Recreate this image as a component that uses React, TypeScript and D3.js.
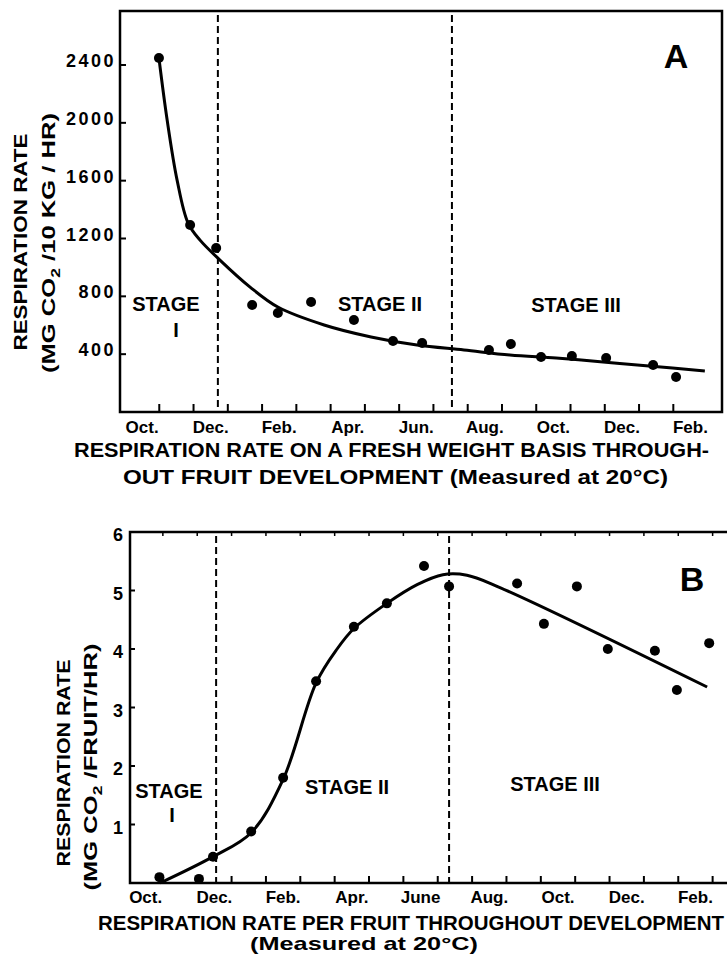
import * as d3 from 'd3';

// month index counted from the start of the first October
const monthLabelsA = ['Oct.', 'Dec.', 'Feb.', 'Apr.', 'Jun.', 'Aug.', 'Oct.', 'Dec.', 'Feb.'];
const monthLabelsB = ['Oct.', 'Dec.', 'Feb.', 'Apr.', 'June', 'Aug.', 'Oct.', 'Dec.', 'Feb.'];
const labelMonths = [0.5, 2.5, 4.5, 6.5, 8.5, 10.5, 12.5, 14.5, 16.5];

// panel A: mg CO2 / 10 kg / hr
const pointMonthsA = [0.99, 1.9, 2.66, 3.71, 4.46, 5.43, 6.68, 7.82, 8.67, 10.62, 11.26, 12.14, 13.04, 14.04, 15.41, 16.08];
const pointValuesA = [2448, 1293, 1134, 740, 685, 761, 636, 491, 477, 429, 470, 380, 387, 373, 325, 242];
const curveMonthsA = [0.99, 1.23, 1.52, 1.84, 2.19, 2.77, 3.65, 4.46, 5.81, 7.18, 8.52, 9.89, 11.23, 12.58, 13.95, 15.29, 16.92];
const curveValuesA = [2448, 2019, 1604, 1307, 1189, 1051, 864, 726, 602, 519, 463, 429, 394, 373, 346, 318, 284];
const stageLinesA = [2.71, 9.54];
const yTicksA = [400, 800, 1200, 1600, 2000, 2400];

// panel B: mg CO2 / fruit / hr
const pointMonthsB = [0.9, 2.05, 2.46, 3.57, 4.5, 5.46, 6.56, 7.52, 8.6, 9.33, 11.31, 12.09, 13.05, 13.95, 15.32, 15.96, 16.9];
const pointValuesB = [0.1, 0.07, 0.45, 0.88, 1.8, 3.45, 4.38, 4.78, 5.42, 5.07, 5.12, 4.43, 5.07, 4.0, 3.97, 3.3, 4.1];
const curveMonthsB = [0.92, 2.46, 3.57, 4.5, 5.46, 6.07, 6.56, 7.52, 8.4, 9.15, 9.85, 10.81, 16.84];
const curveValuesB = [0.0, 0.45, 0.86, 1.77, 3.42, 4.0, 4.35, 4.78, 5.1, 5.27, 5.26, 5.05, 3.35];
const stageLinesB = [2.55, 9.33];
const yTicksB = [1, 2, 3, 4, 5, 6];

const monthTicks = d3.range(1, 18);
const font = "'Liberation Sans', Arial, sans-serif";

export default function App() {
  const width = 727,
    height = 955;

  // panel A frame
  const aLeft = 120,
    aRight = 722,
    aTop = 11,
    aBottom = 412;
  // panel B frame (right edge runs off the page)
  const bLeft = 130,
    bRight = 745,
    bBottom = 883;

  const xA = d3.scaleLinear().domain([0, 17]).range([125, 125 + 17 * 34.27]);
  const yA = d3.scaleLinear().domain([0, 2400]).range([aBottom, 65]);
  const xB = d3.scaleLinear().domain([0, 17]).range([128.5, 128.5 + 17 * 34.36]);
  const yB = d3.scaleLinear().domain([0, 6]).range([bBottom, 532]);
  const bTop = yB(6);

  const lineA = d3
    .line<number>()
    .x((d, i) => xA(curveMonthsA[i]))
    .y((d) => yA(d))
    .curve(d3.curveCatmullRom.alpha(0.5));
  const lineB = d3
    .line<number>()
    .x((d, i) => xB(curveMonthsB[i]))
    .y((d) => yB(d))
    .curve(d3.curveCatmullRom.alpha(0.5));

  const txt = { fontFamily: font, fontWeight: 700, fill: '#000' } as const;

  return (
    <svg
      width={width}
      height={height}
      style={{ position: 'absolute', left: 0, top: 0, background: '#fff' }}
    >
      <rect width={width} height={height} fill="#fff" />

      {/* ---------- panel A ---------- */}
      <rect
        x={aLeft}
        y={aTop}
        width={aRight - aLeft}
        height={aBottom - aTop}
        fill="none"
        stroke="#000"
        strokeWidth={2.5}
      />
      {stageLinesA.map((m, i) => (
        <line
          key={i}
          x1={xA(m)}
          x2={xA(m)}
          y1={aTop + 4}
          y2={aBottom}
          stroke="#000"
          strokeWidth={2}
          strokeDasharray="7,4"
        />
      ))}
      {monthTicks.slice(0, 16).map((m) => (
        <line key={m} x1={xA(m)} x2={xA(m)} y1={aBottom} y2={aBottom - 8} stroke="#000" strokeWidth={2} />
      ))}
      {yTicksA.map((v) => (
        <g key={v}>
          <line x1={aLeft} x2={aLeft + 6} y1={yA(v)} y2={yA(v)} stroke="#000" strokeWidth={2} />
          <text x={116} y={yA(v) + 2} textAnchor="end" fontSize={18} letterSpacing={2.5} {...txt}>
            {v}
          </text>
        </g>
      ))}
      {monthLabelsA.map((l, i) => (
        <text key={i} x={xA(labelMonths[i])} y={433} textAnchor="middle" fontSize={17} {...txt}>
          {l}
        </text>
      ))}
      <path d={lineA(curveValuesA) ?? ''} fill="none" stroke="#000" strokeWidth={3} />
      {pointValuesA.map((v, i) => (
        <circle key={i} cx={xA(pointMonthsA[i])} cy={yA(v)} r={5} fill="#000" />
      ))}
      <text x={676} y={68} textAnchor="middle" fontSize={34} {...txt}>A</text>
      <text x={166} y={311} textAnchor="middle" fontSize={20} {...txt}>STAGE</text>
      <text x={176} y={337} textAnchor="middle" fontSize={20} {...txt}>I</text>
      <text x={380} y={311} textAnchor="middle" fontSize={20} {...txt}>STAGE II</text>
      <text x={576} y={312} textAnchor="middle" fontSize={20} {...txt}>STAGE III</text>

      <text transform="translate(27,242) rotate(-90)" textAnchor="middle" fontSize={19} textLength={217} lengthAdjust="spacingAndGlyphs" {...txt}>
        RESPIRATION RATE
      </text>
      <text transform="translate(55,243) rotate(-90)" textAnchor="middle" fontSize={19} textLength={260} lengthAdjust="spacingAndGlyphs" {...txt}>
        (MG CO<tspan fontSize={13} dy={5}>2</tspan>
        <tspan dy={-5}> /10 KG / HR)</tspan>
      </text>
      <text x={74} y={457} fontSize={20} textLength={635} lengthAdjust="spacingAndGlyphs" {...txt}>
        RESPIRATION RATE ON A FRESH WEIGHT BASIS THROUGH-
      </text>
      <text x={123} y={484} fontSize={20} textLength={545} lengthAdjust="spacingAndGlyphs" {...txt}>
        OUT FRUIT DEVELOPMENT (Measured at 20°C)
      </text>

      {/* ---------- panel B ---------- */}
      <path
        d={`M${bRight},${bTop}H${bLeft}V${bBottom}H${bRight}`}
        fill="none"
        stroke="#000"
        strokeWidth={2.5}
      />
      {stageLinesB.map((m, i) => (
        <line
          key={i}
          x1={xB(m)}
          x2={xB(m)}
          y1={bTop + 4}
          y2={bBottom}
          stroke="#000"
          strokeWidth={2}
          strokeDasharray="7,4"
        />
      ))}
      {monthTicks.map((m) => (
        <g key={m}>
          <line x1={xB(m)} x2={xB(m)} y1={bBottom} y2={bBottom - 7} stroke="#000" strokeWidth={2} />
          <line x1={xB(m)} x2={xB(m)} y1={bTop} y2={bTop + 4} stroke="#000" strokeWidth={1.5} />
        </g>
      ))}
      {yTicksB.map((v) => (
        <g key={v}>
          <line x1={bLeft} x2={bLeft + 5} y1={yB(v)} y2={yB(v)} stroke="#000" strokeWidth={2} />
          <text x={123} y={yB(v) + 9} textAnchor="end" fontSize={18} {...txt}>
            {v}
          </text>
        </g>
      ))}
      {monthLabelsB.map((l, i) => (
        <text key={i} x={xB(labelMonths[i])} y={903} textAnchor="middle" fontSize={17} {...txt}>
          {l}
        </text>
      ))}
      <path d={lineB(curveValuesB) ?? ''} fill="none" stroke="#000" strokeWidth={3} />
      {pointValuesB.map((v, i) => (
        <circle key={i} cx={xB(pointMonthsB[i])} cy={yB(v)} r={5} fill="#000" />
      ))}
      <text x={692} y={591} textAnchor="middle" fontSize={34} {...txt}>B</text>
      <text x={169} y={798} textAnchor="middle" fontSize={20} {...txt}>STAGE</text>
      <text x={172} y={822} textAnchor="middle" fontSize={20} {...txt}>I</text>
      <text x={347} y={794} textAnchor="middle" fontSize={20} {...txt}>STAGE II</text>
      <text x={555} y={791} textAnchor="middle" fontSize={20} {...txt}>STAGE III</text>

      <text transform="translate(70,763) rotate(-90)" textAnchor="middle" fontSize={19} textLength={207} lengthAdjust="spacingAndGlyphs" {...txt}>
        RESPIRATION RATE
      </text>
      <text transform="translate(97,767) rotate(-90)" textAnchor="middle" fontSize={19} textLength={247} lengthAdjust="spacingAndGlyphs" {...txt}>
        (MG CO<tspan fontSize={13} dy={5}>2</tspan>
        <tspan dy={-5}> /FRUIT/HR)</tspan>
      </text>
      <text x={98} y={930} fontSize={20} textLength={626} lengthAdjust="spacingAndGlyphs" {...txt}>
        RESPIRATION RATE PER FRUIT THROUGHOUT DEVELOPMENT
      </text>
      <text x={364} y={950} textAnchor="middle" fontSize={19} textLength={228} lengthAdjust="spacingAndGlyphs" {...txt}>
        (Measured at 20°C)
      </text>
    </svg>
  );
}
